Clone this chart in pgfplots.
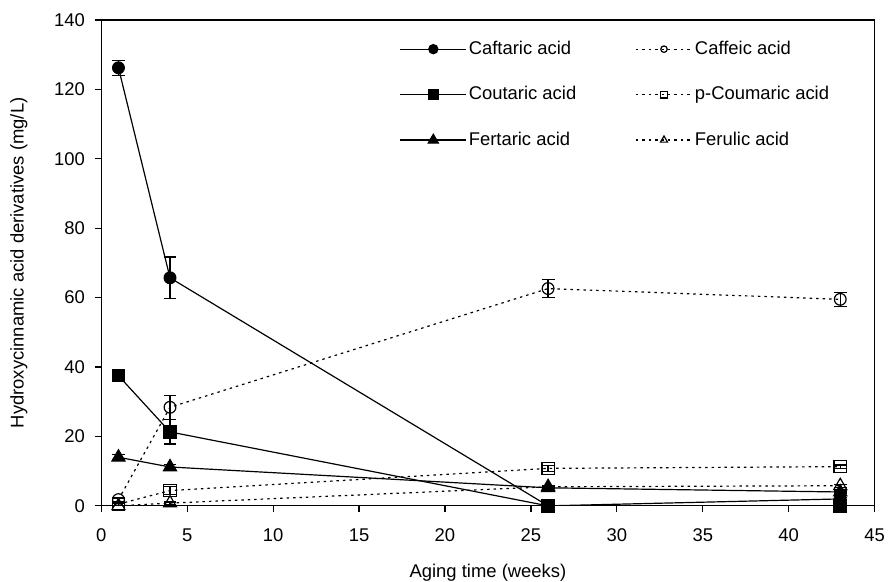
\documentclass[border=0pt]{standalone}
\usepackage{pgfplots}
\pgfplotsset{compat=1.18}
\usepackage{fontspec}
\setmainfont{Liberation Sans}
\usetikzlibrary{plotmarks}
\begin{document}
\fontsize{18.5bp}{22bp}\selectfont
\begin{tikzpicture}
\pgfplotsset{
  legfilled/.style={legend image code/.code={
    \draw[mark repeat=2,mark phase=2,##1, mark options={solid, fill=black, scale=0.78}] plot coordinates {(0bp,0bp)(33bp,0bp)(66bp,0bp)};}},
  legopen/.style={legend image code/.code={
    \draw[mark repeat=2,mark phase=2,##1, mark options={solid, fill=white, scale=0.55}] plot coordinates {(0bp,0bp)(28.5bp,0bp)(57bp,0bp)};}},
  solidser/.style={black, line width=1.2bp, solid},
  dotser/.style={black, line width=1.2bp, dash pattern=on 2.5bp off 4bp},
}
\begin{axis}[
  width=776.6bp, height=488bp, scale only axis,
  xmin=0, xmax=45, ymin=0, ymax=140,
  xtick={0,5,...,45}, ytick={0,20,...,140},
  tick pos=left, tick align=outside,
  major tick length=6bp,
  /pgf/number format/assume math mode=true,
  ticklabel style={font=\fontsize{18.5bp}{22bp}\selectfont},
  xticklabel style={yshift=-11bp},
  yticklabel style={xshift=-4bp},
  label style={font=\fontsize{18.5bp}{22bp}\selectfont},
  xlabel={Aging time (weeks)},
  ylabel={Hydroxycinnamic acid derivatives (mg/L)},
  xlabel style={at={(axis description cs:0.5,-0.1373)}, anchor=center, inner sep=0pt},
  ylabel style={at={(axis description cs:-0.1065,0.5)}, anchor=center},
  axis line style={line width=1.2bp},
  every tick/.style={line width=1.2bp, black},
  legend columns=2,
  legend cell align=left,
  legend style={draw=none, fill=none, at={(0.382,0.965)}, anchor=north west,
    font=\fontsize{18.5bp}{22bp}\selectfont,
    row sep=25.5bp,
    /tikz/column 2/.style={column sep=57bp}},
  error bars/y dir=both, error bars/y explicit,
  error bars/error mark options={rotate=90, mark size=6.5bp, line width=1.2bp, solid},
  error bars/error bar style={line width=1.2bp, solid},
]
% Caftaric acid
\addplot[solidser, legfilled, mark=*, mark size=5.9bp, mark options={solid, fill=black}]
  coordinates {(1,126.2) +- (0,2.1) (4,65.7) +- (0,6.0) (26,0) +- (0,0) (43,2) +- (0,0.5)};
\addlegendentry{Caftaric acid}
% Caffeic acid
\addplot[dotser, legopen, mark=o, mark size=5.9bp, mark options={solid, fill=white}]
  coordinates {(1,1.8) +- (0,0.5) (4,28.4) +- (0,3.5) (26,62.6) +- (0,2.5) (43,59.5) +- (0,2.0)};
\addlegendentry{Caffeic acid}
% Coutaric acid
\addplot[solidser, legfilled, mark=square*, mark size=6.2bp, mark options={solid, fill=black}]
  coordinates {(1,37.5) +- (0,1.0) (4,21.3) +- (0,3.5) (26,0) +- (0,0) (43,0) +- (0,0)};
\addlegendentry{Coutaric acid}
% p-Coumaric acid
\addplot[dotser, legopen, mark=square, mark size=6.2bp, mark options={solid, fill=white}]
  coordinates {(1,0.5) +- (0,0.3) (4,4.4) +- (0,1.2) (26,10.8) +- (0,0.8) (43,11.3) +- (0,0.5)};
\addlegendentry{p-Coumaric acid}
% Fertaric acid
\addplot[solidser, legfilled, mark=triangle*, mark size=7.5bp, mark options={solid, fill=black}]
  coordinates {(1,14.0) +- (0,0.8) (4,11.2) +- (0,0.8) (26,5.2) +- (0,0.3) (43,4.0) +- (0,0.3)};
\addlegendentry{Fertaric acid}
% Ferulic acid
\addplot[dotser, legopen, mark=triangle, mark size=7.5bp, mark options={solid, fill=white}]
  coordinates {(1,0) +- (0,0.2) (4,0.8) +- (0,0.3) (26,5.5) +- (0,0.3) (43,5.8) +- (0,0.4)};
\addlegendentry{Ferulic acid}
\end{axis}
\path (current axis.north) ++(0,20bp);
\path (current axis.east) ++(13bp,0);
\path (current axis.west) ++(-101.7bp,0);
\end{tikzpicture}
\end{document}
